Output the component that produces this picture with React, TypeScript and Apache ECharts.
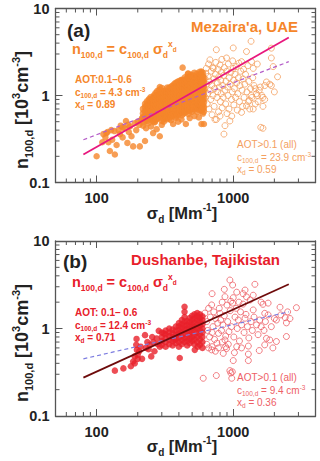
import React, { useEffect, useRef } from "react";
import * as echarts from "echarts";

// ---------- axis tick values ----------
const X_MIN = 50;
const X_MAX = 4000;
const Y_MIN = 0.1;
const Y_MAX = 10;
const X_MINOR = [60, 70, 80, 90, 200, 300, 400, 500, 600, 700, 800, 900, 2000, 3000];
const Y_MINOR = [0.2, 0.3, 0.4, 0.5, 0.6, 0.7, 0.8, 0.9, 2, 3, 4, 5, 6, 7, 8, 9];

// ---------- panel (a) Mezaira'a ----------
const aFilledSparse: number[][] = [
  [100, 0.2], [118, 0.37], [116, 0.33], [125, 0.23], [136, 0.21], [130, 0.31], [140, 0.27],
  [155, 0.33], [155, 0.43], [164, 0.51], [168, 0.285], [180, 0.34], [185, 0.26], [207, 0.26],
  [226, 0.3], [219, 0.45], [259, 0.37], [275, 0.41], [290, 0.34], [325, 0.53], [363, 0.47],
  [418, 0.53], [450, 0.47], [585, 0.47], [426, 2.09], [120, 0.38], [128, 0.4], [135, 0.39],
  [145, 0.4], [150, 0.45], [160, 0.42], [170, 0.46], [175, 0.44], [190, 0.48], [200, 0.5],
  [205, 0.46], [210, 0.52], [215, 0.55], [110, 0.29], [112, 0.36], [122, 0.29], [148, 0.36],
  [172, 0.38], [195, 0.4], [230, 0.42], [240, 0.48], [250, 0.44], [265, 0.5], [300, 0.46],
  [310, 0.5], [350, 0.52], [380, 0.55], [395, 0.5], [480, 0.55], [520, 0.58], [560, 0.56],
  [600, 0.62], [610, 0.47], [290, 1.25], [466, 1.79], [585, 1.88], [418, 1.5],
];
const aFilledBlobCols: [number, number[]][] = [
  [220, [0.5, 0.56, 0.62, 0.7]],
  [228, [0.53, 0.59, 0.66, 0.74, 0.8]],
  [235, [0.52, 0.6, 0.68, 0.78, 0.85]],
  [243, [0.56, 0.64, 0.73, 0.82, 0.9]],
  [250, [0.55, 0.62, 0.7, 0.78, 0.88, 0.95]],
  [258, [0.52, 0.59, 0.67, 0.75, 0.84, 0.93]],
  [265, [0.5, 0.58, 0.66, 0.74, 0.82, 0.92, 1.0]],
  [272, [0.54, 0.61, 0.7, 0.78, 0.87, 0.97, 1.06]],
  [280, [0.55, 0.63, 0.72, 0.8, 0.9, 1.0, 1.12]],
  [290, [0.57, 0.65, 0.73, 0.82, 0.92, 1.02, 1.15]],
  [300, [0.52, 0.6, 0.68, 0.76, 0.86, 0.96, 1.05, 1.2]],
  [310, [0.55, 0.63, 0.71, 0.8, 0.9, 1.0, 1.1]],
  [320, [0.58, 0.65, 0.73, 0.82, 0.92, 1.02, 1.12]],
  [330, [0.57, 0.64, 0.72, 0.8, 0.9, 1.0, 1.1, 1.22]],
  [340, [0.55, 0.62, 0.7, 0.78, 0.88, 0.98, 1.08, 1.2]],
  [350, [0.58, 0.66, 0.74, 0.82, 0.92, 1.02, 1.12, 1.24]],
  [360, [0.6, 0.68, 0.76, 0.85, 0.95, 1.05, 1.18, 1.28]],
  [370, [0.62, 0.7, 0.79, 0.88, 0.98, 1.08, 1.2, 1.33]],
  [380, [0.58, 0.66, 0.74, 0.83, 0.92, 1.02, 1.12, 1.25, 1.38]],
  [390, [0.6, 0.68, 0.77, 0.86, 0.95, 1.05, 1.16, 1.28, 1.4]],
  [400, [0.62, 0.7, 0.79, 0.88, 0.98, 1.08, 1.2, 1.32, 1.45]],
  [410, [0.64, 0.72, 0.81, 0.9, 1.0, 1.12, 1.24, 1.36]],
  [420, [0.6, 0.68, 0.76, 0.85, 0.95, 1.05, 1.16, 1.28, 1.42, 1.5]],
  [432, [0.63, 0.7, 0.78, 0.87, 0.97, 1.08, 1.19, 1.31, 1.44]],
  [445, [0.65, 0.72, 0.8, 0.9, 1.0, 1.1, 1.22, 1.35, 1.48, 1.6]],
  [457, [0.67, 0.75, 0.84, 0.94, 1.05, 1.16, 1.28, 1.4, 1.55]],
  [470, [0.62, 0.7, 0.78, 0.87, 0.97, 1.08, 1.2, 1.32, 1.45, 1.62, 1.75]],
  [482, [0.68, 0.76, 0.85, 0.95, 1.06, 1.18, 1.3, 1.44, 1.58]],
  [495, [0.66, 0.74, 0.83, 0.93, 1.04, 1.15, 1.28, 1.42, 1.56, 1.7]],
  [507, [0.72, 0.8, 0.9, 1.0, 1.12, 1.24, 1.38, 1.52, 1.66]],
  [520, [0.7, 0.78, 0.88, 0.98, 1.1, 1.22, 1.35, 1.5, 1.65, 1.8]],
  [532, [0.74, 0.83, 0.92, 1.03, 1.15, 1.28, 1.42, 1.57]],
  [545, [0.66, 0.75, 0.85, 0.95, 1.06, 1.18, 1.3, 1.45, 1.6, 1.75]],
  [557, [0.7, 0.79, 0.88, 0.98, 1.1, 1.22, 1.36, 1.5, 1.64]],
  [570, [0.72, 0.8, 0.9, 1.0, 1.12, 1.25, 1.38, 1.52, 1.68, 1.85]],
  [582, [0.68, 0.76, 0.85, 0.95, 1.06, 1.18, 1.3, 1.44, 1.58, 1.74]],
  [595, [0.7, 0.78, 0.88, 0.98, 1.1, 1.22, 1.36, 1.5, 1.65, 1.8]],
  [605, [0.66, 0.74, 0.83, 0.93, 1.04, 1.16, 1.28, 1.42, 1.58]],
];
const aOpen: number[][] = [
  [620, 1.57], [615, 1.2], [625, 0.95], [630, 1.8], [635, 2.05], [640, 1.35], [645, 0.8],
  [650, 1.05], [655, 1.65], [660, 2.3], [665, 0.7], [670, 1.45], [675, 2.57], [680, 1.15],
  [685, 0.9], [690, 1.9], [695, 1.3], [700, 0.6], [705, 2.1], [710, 1.0], [715, 2.05],
  [720, 1.55], [725, 0.75], [730, 1.2], [735, 0.53], [740, 1.75], [745, 2.4], [752, 3.36],
  [752, 0.53], [760, 0.95], [765, 1.4], [770, 1.1], [775, 2.0], [780, 0.65], [785, 1.65],
  [790, 1.25], [800, 2.24], [800, 0.58], [805, 0.85], [810, 1.5], [815, 1.05], [820, 1.85],
  [825, 2.6], [830, 0.72], [840, 1.3], [845, 0.95], [850, 1.7], [855, 0.36], [860, 2.1],
  [870, 0.45], [870, 1.15], [880, 0.8], [885, 1.45], [893, 2.7], [895, 1.9], [900, 0.62],
  [910, 1.25], [915, 1.0], [920, 2.3], [930, 0.7], [935, 1.6], [945, 0.51], [950, 1.35],
  [960, 1.85], [970, 0.9], [975, 0.58], [985, 1.1], [990, 2.5], [1000, 3.52], [1000, 2.05],
  [1005, 1.5], [1010, 0.78], [1020, 1.2], [1030, 1.75], [1040, 0.95], [1050, 2.15],
  [1060, 1.4], [1070, 0.68], [1080, 1.05], [1090, 1.6], [1100, 2.35], [1110, 0.85],
  [1120, 1.3], [1135, 1.9], [1150, 2.45], [1150, 0.64], [1160, 1.15], [1170, 0.75],
  [1180, 1.55], [1190, 2.0], [1200, 0.95], [1215, 1.35], [1230, 1.75], [1250, 3.2],
  [1250, 0.76], [1260, 1.1], [1280, 2.2], [1290, 0.85], [1300, 1.45], [1320, 0.7],
  [1340, 1.2], [1350, 4.2], [1360, 2.45], [1370, 0.95], [1390, 1.6], [1400, 2.05],
  [1400, 0.7], [1420, 1.3], [1450, 0.8], [1480, 1.05], [1500, 2.3], [1520, 0.85],
  [1550, 1.15], [1590, 0.43], [1620, 1.0], [1650, 0.75], [1700, 1.3], [1750, 1.43],
  [1850, 1.35], [1900, 2.7], [1900, 3.5], [1900, 1.3], [1960, 2.15], [2000, 1.1],
  [2110, 1.64], [1450, 1.2], [1500, 1.0], [1580, 1.25], [1650, 0.95], [1700, 0.9],
  [1350, 1.0], [1310, 0.88], [1650, 0.42],
];
const aFitSolid: number[][] = [[80, 0.21], [2550, 4.65]];
const aFitDashed: number[][] = [[80, 0.31], [2550, 2.45]];

// ---------- panel (b) Dushanbe ----------
const bFilledSparse: number[][] = [
  [136, 0.33], [157, 0.35], [178, 0.37], [185, 0.42], [190, 0.48], [196, 0.76], [195, 0.65],
  [197, 0.57], [200, 0.5], [205, 0.55], [210, 0.62], [215, 0.45], [226, 0.84], [245, 0.65],
  [251, 0.48], [240, 0.58], [260, 0.7], [275, 0.77], [285, 0.94], [290, 0.62], [310, 0.88],
  [373, 0.74], [406, 0.46], [523, 0.57], [550, 0.62], [190, 0.4], [200, 0.45], [230, 0.6],
  [265, 0.55], [280, 0.66], [255, 0.8], [235, 0.7],
];
const bFilledBlobCols: [number, number[]][] = [
  [300, [0.65, 0.72, 0.8, 0.9]],
  [320, [0.62, 0.7, 0.78, 0.86, 0.95]],
  [340, [0.66, 0.74, 0.82, 0.9, 1.0]],
  [360, [0.64, 0.72, 0.8, 0.88, 0.97]],
  [380, [0.68, 0.76, 0.85, 0.95, 1.05]],
  [400, [0.62, 0.7, 0.78, 0.87, 0.96, 1.06, 1.15]],
  [420, [0.66, 0.74, 0.82, 0.92, 1.02, 1.12, 1.25]],
  [440, [0.7, 0.78, 0.87, 0.97, 1.08, 1.2, 1.35, 1.55, 1.77]],
  [460, [0.64, 0.72, 0.8, 0.9, 1.0, 1.1, 1.22]],
  [480, [0.68, 0.76, 0.85, 0.95, 1.06, 1.18, 1.32]],
  [500, [0.72, 0.8, 0.9, 1.0, 1.12, 1.25, 1.4]],
  [520, [0.66, 0.75, 0.84, 0.94, 1.05, 1.17, 1.3, 1.45]],
  [545, [0.7, 0.8, 0.9, 1.0, 1.12, 1.25, 1.38, 1.5]],
  [570, [0.65, 0.75, 0.86, 0.96, 1.08, 1.2, 1.32, 1.45]],
  [595, [0.6, 0.7, 0.8, 0.9, 1.0, 1.12, 1.25, 1.38]],
];
const bOpen: number[][] = [
  [603, 0.27], [752, 0.29], [945, 0.33], [975, 0.27], [960, 0.31], [985, 0.32], [1290, 0.63],
  [1290, 0.51], [1290, 0.43], [1000, 0.43], [1020, 0.53], [845, 0.52], [695, 0.57], [700, 0.62],
  [893, 0.59], [920, 0.66], [760, 0.68], [1750, 0.77], [2070, 0.71], [2450, 0.81], [2450, 1.16],
  [2400, 1.33], [2070, 1.25], [1800, 1.43], [1700, 1.49], [1650, 1.89], [1440, 3.2], [945, 3.58],
  [990, 3.14], [1220, 2.75], [870, 2.31], [1330, 2.12], [695, 1.86], [800, 1.49], [1400, 1.63],
  [2230, 1.43], [2900, 1.73], [1220, 1.31], [870, 0.74], [1850, 0.74], [620, 1.5], [640, 1.2],
  [650, 0.95], [660, 1.7], [670, 0.8], [680, 1.35], [710, 1.05], [720, 1.55], [730, 0.75],
  [740, 1.3], [770, 1.15], [780, 0.88], [790, 1.7], [810, 1.25], [820, 0.95], [830, 2.0],
  [840, 1.1], [860, 1.4], [880, 0.82], [900, 1.85], [910, 1.2], [930, 0.92], [950, 1.6],
  [970, 1.05], [990, 1.95], [1010, 0.8], [1030, 1.35], [1050, 1.7], [1070, 1.0], [1090, 1.25],
  [1110, 0.72], [1130, 1.55], [1150, 1.1], [1180, 1.9], [1200, 0.9], [1240, 1.45], [1270, 1.05],
  [1300, 0.78], [1350, 1.2], [1380, 0.95], [1420, 1.35], [1480, 1.1], [1520, 0.85], [1560, 1.25],
  [1600, 1.05], [1680, 0.95], [1720, 1.2], [1900, 1.05], [2000, 1.3], [1950, 0.6], [640, 0.66],
  [660, 0.6], [700, 0.9], [740, 0.55], [780, 0.6], [830, 0.7], [880, 0.62], [1060, 0.62],
  [1150, 0.6], [1250, 2.3], [1100, 2.0], [1000, 2.25], [1060, 2.6], [1400, 2.4], [1600, 2.0],
  [1800, 1.95], [2200, 1.75], [2600, 1.3], [2500, 1.55], [1550, 0.56], [1700, 0.65], [700, 2.5],
  [860, 2.8], [960, 2.05], [1180, 2.5],
];
const bFitSolid: number[][] = [[80, 0.275], [2550, 3.2]];
const bFitDashed: number[][] = [[80, 0.45], [2550, 1.55]];

const flattenCols = (cols: [number, number[]][]) =>
  cols.flatMap(([v, ns]) => ns.map((n) => [v, n]));

const FONT = "'Liberation Sans', Arial, Helvetica, sans-serif";
const AXIS_COLOR = "#555";

function tok(size: number, weight: string, color: string, lh: number, va: string) {
  return { fontSize: size, fontWeight: weight, fontFamily: FONT, fill: color, color, lineHeight: lh, verticalAlign: va };
}

function richStyles(F: number, S: number, color: string, weight: string, L: number) {
  return {
    n: tok(F, weight, color, L, "middle"),
    s: tok(S, weight, color, S, "bottom"),
    p: tok(S, weight, color, S, "top"),
    pp: tok(S * 0.75, weight, color, L, "middle"),
  };
}

function textEl(x: number, y: number, text: string, rich: any, align = "left", rotation = 0) {
  return {
    type: "text",
    x,
    y,
    rotation,
    z: 100,
    style: { text, rich, align, verticalAlign: "middle", font: `12px ${FONT}` },
  };
}

function buildPanel(gi: number) {
  const axisLine = { show: true, lineStyle: { color: AXIS_COLOR, width: 1.3 } };
  const xBottom = {
    gridIndex: gi, type: "log", logBase: 10, min: X_MIN, max: X_MAX, position: "bottom",
    axisLine, splitLine: { show: false },
    axisTick: { show: true, inside: true, length: 7, lineStyle: { color: AXIS_COLOR, width: 1 } },
    axisLabel: {
      show: true, showMinLabel: false, showMaxLabel: false, margin: 8,
      fontSize: 14.5, fontWeight: "bold", fontFamily: FONT, color: "#222",
      formatter: (v: number) => String(Number(v.toPrecision(3))),
    },
  };
  const xTop = { ...xBottom, position: "top", axisLabel: { show: false } };
  const yLeft = {
    gridIndex: gi, type: "log", logBase: 10, min: Y_MIN, max: Y_MAX, position: "left",
    axisLine, splitLine: { show: false },
    axisTick: { show: true, inside: true, length: 7, lineStyle: { color: AXIS_COLOR, width: 1 } },
    axisLabel: {
      show: true, margin: 6, fontSize: 14.5, fontWeight: "bold", fontFamily: FONT, color: "#222",
      formatter: (v: number) => String(Number(v.toPrecision(3))),
    },
  };
  const yRight = { ...yLeft, position: "right", axisLabel: { show: false } };
  return { xAxes: [xBottom, xTop], yAxes: [yLeft, yRight] };
}

function minorTickSeries(gi: number) {
  const xi = gi * 2;
  const yi = gi * 2;
  const stroke = { stroke: AXIS_COLOR, lineWidth: 1 };
  return [
    {
      type: "custom", xAxisIndex: xi, yAxisIndex: yi, silent: true, z: 10,
      data: X_MINOR.map((v) => [v, Y_MIN]),
      renderItem: (params: any, api: any) => {
        const cs = params.coordSys;
        const px = api.coord([api.value(0), Y_MIN])[0];
        const b = cs.y + cs.height;
        return {
          type: "group",
          children: [
            { type: "line", shape: { x1: px, y1: b, x2: px, y2: b - 4 }, style: stroke },
            { type: "line", shape: { x1: px, y1: cs.y, x2: px, y2: cs.y + 4 }, style: stroke },
          ],
        };
      },
    },
    {
      type: "custom", xAxisIndex: xi, yAxisIndex: yi, silent: true, z: 10,
      data: Y_MINOR.map((v) => [X_MIN, v]),
      renderItem: (params: any, api: any) => {
        const cs = params.coordSys;
        const py = api.coord([X_MIN, api.value(1)])[1];
        const r = cs.x + cs.width;
        return {
          type: "group",
          children: [
            { type: "line", shape: { x1: cs.x, y1: py, x2: cs.x + 4, y2: py }, style: stroke },
            { type: "line", shape: { x1: r, y1: py, x2: r - 4, y2: py }, style: stroke },
          ],
        };
      },
    },
  ];
}

function dataSeries(gi: number, sparse: number[][], blob: number[][], blobSize: number, open: number[][], solid: number[][], dashed: number[][], c: any) {
  const xi = gi * 2;
  const yi = gi * 2;
  return [
    {
      type: "scatter", xAxisIndex: xi, yAxisIndex: yi, data: open, symbol: "circle", symbolSize: 6,
      itemStyle: { color: "rgba(0,0,0,0)", borderColor: c.open, borderWidth: 1 }, z: 2,
    },
    {
      type: "scatter", xAxisIndex: xi, yAxisIndex: yi, data: sparse, symbol: "circle", symbolSize: 6.5,
      itemStyle: { color: c.filled }, z: 3,
    },
    {
      type: "scatter", xAxisIndex: xi, yAxisIndex: yi, data: blob, symbol: "circle", symbolSize: blobSize,
      itemStyle: { color: c.filled }, z: 3,
    },
    {
      type: "line", xAxisIndex: xi, yAxisIndex: yi, data: dashed, showSymbol: false, z: 4,
      lineStyle: { color: c.dashed, width: 1.2, type: [4, 3] },
    },
    {
      type: "line", xAxisIndex: xi, yAxisIndex: yi, data: solid, showSymbol: false, z: 5,
      lineStyle: { color: c.solid, width: 1.8 },
    },
  ];
}

export default function App() {
  const ref = useRef<HTMLDivElement>(null);
  useEffect(() => {
    if (!ref.current) return;
    const chart = echarts.init(ref.current, undefined, { renderer: "svg" });
    const pa = buildPanel(0);
    const pb = buildPanel(1);
    const orange = "#F5862A";
    const orangeLight = "#F4A060";
    const red = "#E8202A";
    const redLight = "#EE6066";

    const blackRich = richStyles(18, 11, "#222", "bold", 24);
    const axNameRich = richStyles(16.5, 10, "#222", "bold", 22);
    const labelRich = { n: tok(19, "bold", "#222", 22, "middle") };

    const formula = "{n|n}{s|100,d}{n| = c}{s|100,d}{n| σ}{s|d}{p|x}{pp|d}";
    const yName = "{n|n}{s|100,d}{n| [10}{p|3}{n|cm}{p|-3}{n|]}";
    const xName = "{n|σ}{s|d}{n| [Mm}{p|-1}{n|]}";

    const graphics: any[] = [];
    const panelTexts = (dy: number, site: string, col: string, colL: string, aot1: string, c1: string, x1: string, c2: string, x2: string, siteRight: number) => {
      graphics.push(textEl(22, 110 + dy, yName, blackRich, "center", Math.PI / 2));
      graphics.push(textEl(182, 213 + dy, xName, axNameRich, "center"));
      graphics.push(textEl(siteRight, 26 + dy, `{n|${site}}`, { n: tok(15, "bold", col, 18, "middle") }, "right"));
      graphics.push(textEl(72, 49 + dy, formula, richStyles(14.5, 8.5, col, "bold", 20), "left"));
      const small = richStyles(10, 6.5, col, "bold", 13);
      graphics.push(textEl(75, 79 + dy, `{n|${aot1}}`, small));
      graphics.push(textEl(75, 92 + dy, `{n|c}{s|100,d}{n| = ${c1} cm}{p|-3}`, small));
      graphics.push(textEl(75, 104 + dy, `{n|x}{s|d}{n| = ${x1}}`, small));
      const smallR = richStyles(10, 6.5, colL, "normal", 13);
      graphics.push(textEl(237, 144 + dy, `{n|AOT>0.1 (all)}`, smallR));
      graphics.push(textEl(237, 157 + dy, `{n|c}{s|100,d}{n| = ${c2} cm}{p|-3}`, smallR));
      graphics.push(textEl(237, 169 + dy, `{n|x}{s|d}{n| = ${x2}}`, smallR));
    };
    panelTexts(0, "Mezaira'a, UAE", orange, orangeLight, "AOT:0.1–0.6", "4.3", "0.89", "23.9", "0.59", 298);
    panelTexts(233, "Dushanbe, Tajikistan", red, redLight, "AOT: 0.1– 0.6", "12.4", "0.71", "9.4", "0.36", 280);
    graphics.push(textEl(67, 30, "{n|(a)}", labelRich));
    graphics.push(textEl(63, 261, "{n|(b)}", labelRich));

    chart.setOption({
      animation: false,
      backgroundColor: "#fff",
      grid: [
        { left: 55.5, top: 8.5, width: 260, height: 174 },
        { left: 55.5, top: 241, width: 260, height: 175 },
      ],
      xAxis: [...pa.xAxes, ...pb.xAxes],
      yAxis: [...pa.yAxes, ...pb.yAxes],
      series: [
        ...dataSeries(0, aFilledSparse, flattenCols(aFilledBlobCols), 7.5, aOpen, aFitSolid, aFitDashed, {
          filled: orange, open: orangeLight, solid: "#E8177D", dashed: "#B45CC8",
        }),
        ...dataSeries(1, bFilledSparse, flattenCols(bFilledBlobCols), 6.5, bOpen, bFitSolid, bFitDashed, {
          filled: red, open: redLight, solid: "#6E0B0B", dashed: "#7C7CE0",
        }),
        ...minorTickSeries(0),
        ...minorTickSeries(1),
      ],
      graphic: graphics,
    });
    return () => chart.dispose();
  }, []);
  return <div ref={ref} style={{ position: "fixed", left: 0, top: 0, width: 320, height: 461 }} />;
}
